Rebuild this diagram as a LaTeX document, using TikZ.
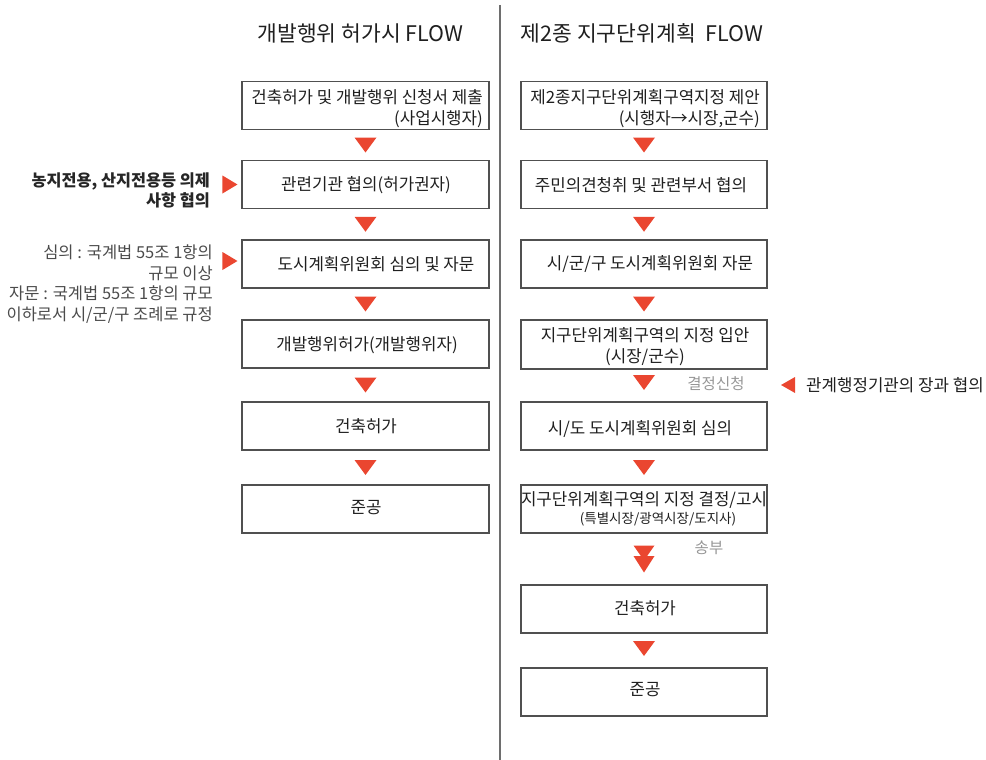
\documentclass[tikz,border=0pt]{standalone}
\usepackage{fontspec}
\setmainfont{Noto Sans CJK KR}
\usetikzlibrary{calc}
\definecolor{arrred}{RGB}{234,70,48}
\definecolor{boxgray}{RGB}{80,80,80}
\definecolor{notegray}{RGB}{75,75,75}
\definecolor{softgray}{RGB}{150,150,150}
\definecolor{divgray}{RGB}{110,110,110}
\begin{document}
\begin{tikzpicture}[x=1pt,y=-1pt,
  box/.style={draw=boxgray,line width=1.1pt,minimum width=247pt,minimum height=48pt,inner sep=0pt},
  txt/.style={font=\fontsize{16.8}{20.5}\selectfont,inner sep=0pt,text=black!88},
  small/.style={font=\fontsize{13.5}{15}\selectfont,inner sep=0pt,text=black!88},
  title/.style={font=\fontsize{21.5}{25}\selectfont,inner sep=0pt,text=black!88},
  note/.style={font=\fontsize{16.5}{20.7}\selectfont,inner sep=0pt,text=notegray,align=right},
  bnote/.style={font=\fontsize{16.3}{20}\selectfont\bfseries,inner sep=0pt,text=black!85,align=right},
  faint/.style={font=\fontsize{15.5}{17}\selectfont,inner sep=0pt,text=softgray},
  tridown/.pic={\fill[arrred] (-11,-7.5) -- (11,-7.5) -- (0,7.5) -- cycle;},
  tridouble/.pic={\fill[arrred] (-10.5,-13.5) -- (10.5,-13.5) -- (0,1.5) -- cycle;
                  \fill[arrred] (-10.5,-3) -- (10.5,-3) -- (0,13.5) -- cycle;},
  triright/.pic={\fill[arrred] (-7.5,-9) -- (-7.5,9) -- (7.5,0) -- cycle;},
  trileft/.pic={\fill[arrred] (7,-8) -- (7,8) -- (-7,0) -- cycle;}
]
\useasboundingbox (0,0) rectangle (986,760);

% divider
\draw[divgray,line width=1.4pt] (500,5) -- (500,760);

% titles
\node[title] (tl) at (360.5,33) {개발행위 허가시 FLOW};
\node[title] (tr) at (642,33) {제2종 지구단위계획 \ FLOW};

% left column boxes
\node[box] (L1) at (365.5,105.5) {};
\node[box] (L2) at (365.5,184.5) {};
\node[box] (L3) at (365.5,264) {};
\node[box] (L4) at (365.5,344) {};
\node[box] (L5) at (365.5,426) {};
\node[box] (L6) at (365.5,509) {};

\node[txt,align=right,anchor=east] (L1t) at (483,108.5) {건축허가 및 개발행위 신청서 제출\\(사업시행자)};
\node[txt] (L2t) at (366,185) {관련기관 협의(허가권자)};
\node[txt] (L3t) at (376,264) {도시계획위원회 심의 및 자문};
\node[txt] (L4t) at (367,345) {개발행위허가(개발행위자)};
\node[txt] (L5t) at (366,426) {건축허가};
\node[txt] (L6t) at (366,508) {준공};

\pic at ($(L1.south)!0.5!(L2.north)$) {tridown};
\pic at ($(L2.south)!0.5!(L3.north)$) {tridown};
\pic at ($(L3.south)!0.5!(L4.north)$) {tridown};
\pic at ($(L4.south)!0.5!(L5.north)$) {tridown};
\pic at ($(L5.south)!0.5!(L6.north)$) {tridown};

% left notes
\node[bnote,anchor=east] (n1) at (210,190) {농지전용, 산지전용등 의제\\사항 협의};
\pic at ($(L2.west)+(-11.5,0)$) {triright};
\node[note,anchor=east] (n2) at (213,284) {심의 : 국계법 55조 1항의\\규모 이상\\자문 : 국계법 55조 1항의 규모\\이하로서 시/군/구 조례로 규정};
\pic at ($(L3.west)+(-11.5,-3)$) {triright};

% right column boxes
\node[box,minimum width=246pt] (R1) at (644,105.5) {};
\node[box,minimum width=246pt] (R2) at (644,184.5) {};
\node[box,minimum width=246pt] (R3) at (644,264) {};
\node[box,minimum width=246pt,minimum height=49pt] (R4) at (644,344.5) {};
\node[box,minimum width=246pt] (R5) at (644,426) {};
\node[box,minimum width=246pt] (R6) at (644,509) {};
\node[box,minimum width=246pt] (R7) at (644,609) {};
\node[box,minimum width=246pt] (R8) at (644,692) {};

\node[txt,align=right,anchor=east] (R1t) at (760,108.5) {제2종지구단위계획구역지정 제안\\(시행자→시장,군수)};
\node[txt] (R2t) at (641,185) {주민의견청취 및 관련부서 협의};
\node[txt] (R3t) at (650,264) {시/군/구 도시계획위원회 자문};
\node[txt,align=center] (R4t) at (645,346.5) {지구단위계획구역의 지정 입안\\(시장/군수)};
\node[txt] (R5t) at (640,429) {시/도 도시계획위원회 심의};
\node[txt] (R6t) at (644,500) {지구단위계획구역의 지정 결정/고시};
\node[small] (R6s) at (658,519) {(특별시장/광역시장/도지사)};
\node[txt] (R7t) at (645,608) {건축허가};
\node[txt] (R8t) at (645,690) {준공};

\pic at ($(R1.south)!0.5!(R2.north)$) {tridown};
\pic at ($(R2.south)!0.5!(R3.north)$) {tridown};
\pic at ($(R3.south)!0.5!(R4.north)$) {tridown};
\pic at ($(R4.south)!0.5!(R5.north)+(0,-3)$) {tridown};
\pic at ($(R5.south)!0.5!(R6.north)$) {tridown};
\pic at ($(R6.south)!0.5!(R7.north)$) {tridouble};
\pic at ($(R7.south)!0.5!(R8.north)+(0,-2)$) {tridown};

\node[faint] (f1) at (716,384) {결정신청};
\node[faint] (f2) at (709,548) {송부};

\pic at (788,385) {trileft};
\node[txt,anchor=west] (rn) at (806,385) {관계행정기관의 장과 협의};
\end{tikzpicture}
\end{document}
